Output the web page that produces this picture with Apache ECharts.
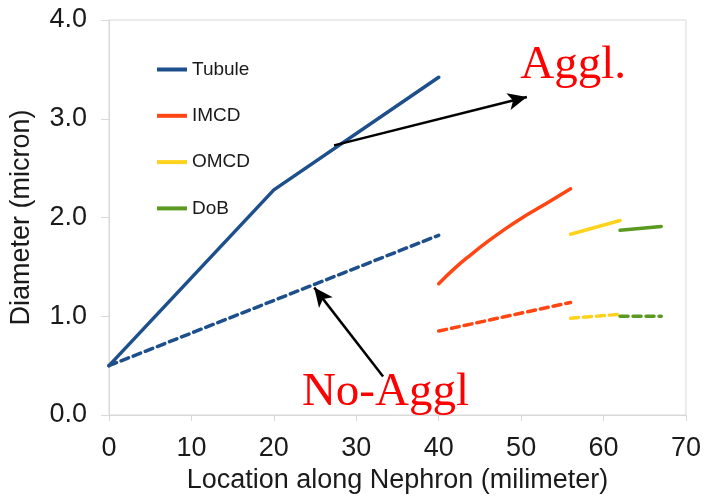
<!DOCTYPE html>
<html>
<head>
<meta charset="utf-8">
<script src="https://cdn.jsdelivr.net/npm/echarts@6/dist/echarts.min.js"></script>
<style>html,body{margin:0;padding:0;background:#fff}#c{width:704px;height:499px}</style>
</head>
<body>
<div id="c"></div>
<script>
// Data
var tubuleAggl   = [[0, 0.5], [20, 2.28], [40, 3.42]];
var tubuleNoAggl = [[0, 0.5], [40, 1.82]];
var imcdAggl     = [[40, 1.33], [42, 1.49], [44, 1.63], [46, 1.76], [48, 1.88], [50, 1.99], [52, 2.09], [54, 2.19], [56, 2.29]];
var imcdNoAggl   = [[40, 0.85], [56, 1.14]];
var omcdAggl     = [[56, 1.83], [62, 1.97]];
var omcdNoAggl   = [[56, 0.98], [62, 1.02]];
var dobAggl      = [[62, 1.87], [67, 1.91]];
var dobNoAggl    = [[62, 1.00], [67, 1.00]];
var legendNames  = ['Tubule', 'IMCD', 'OMCD', 'DoB'];
var xTicks = {min: 0, max: 70, interval: 10};
var yTicks = {min: 0, max: 4, interval: 1};
// annotation anchors in data coordinates
var agglArrow   = [[27.3, 2.73], [50.7, 3.22]];
var noAgglArrow = [[33.25, 0.39], [24.9, 1.29]];
var agglLabel   = {text: 'Aggl.', at: [49.9, 3.54]};
var noAgglLabel = {text: 'No-Aggl', at: [23.4, 0.23]};

var C = {tubule: '#1d4f8c', imcd: '#ff4613', omcd: '#ffd21e', dob: '#5a9a20'};
var font = '"Liberation Sans", Arial, sans-serif';

function line(name, data, color, dashed, smooth) {
  return {
    name: name, type: 'line', data: data, smooth: smooth || false,
    symbol: 'none', showSymbol: false, silent: true,
    itemStyle: {color: color},
    lineStyle: {color: color, width: 3.5, type: dashed ? [8, 5] : 'solid', cap: 'round'},
    z: 3
  };
}
var arrowStyle = {color: '#000', width: 2.5, type: 'solid'};
function arrowLine(pts) {
  return [{coord: pts[0]}, {coord: pts[1]}];
}

var chart = echarts.init(document.getElementById('c'), null, {renderer: 'canvas'});
var series = [
  line('Tubule', tubuleAggl, C.tubule, false),
  line('Tubule No-Aggl', tubuleNoAggl, C.tubule, true),
  line('IMCD', imcdAggl, C.imcd, false, true),
  line('IMCD No-Aggl', imcdNoAggl, C.imcd, true),
  line('OMCD', omcdAggl, C.omcd, false),
  line('OMCD No-Aggl', omcdNoAggl, C.omcd, true),
  line('DoB', dobAggl, C.dob, false),
  line('DoB No-Aggl', dobNoAggl, C.dob, true)
];
series[0].markLine = {
  silent: true, symbol: ['none', 'arrow'], symbolSize: [13, 19],
  label: {show: false}, lineStyle: arrowStyle,
  emphasis: {disabled: true},
  data: [arrowLine(agglArrow), arrowLine(noAgglArrow)],
  z: 5
};

chart.setOption({
  animation: false,
  backgroundColor: '#fff',
  grid: {left: 109, right: 16, top: 20, bottom: 83, show: true, borderColor: '#d9d9d9', borderWidth: 1, backgroundColor: 'transparent'},
  legend: {
    data: legendNames, orient: 'vertical', left: 157, top: 60, padding: 0,
    icon: 'rect', itemWidth: 30, itemHeight: 4, itemGap: 27.3,
    selectedMode: false,
    textStyle: {fontSize: 19, color: '#1a1a1a', fontFamily: font}
  },
  xAxis: {
    type: 'value', min: xTicks.min, max: xTicks.max, interval: xTicks.interval,
    name: 'Location along Nephron (milimeter)', nameLocation: 'middle', nameGap: 52,
    nameTextStyle: {fontSize: 27, color: '#1a1a1a', fontFamily: font},
    axisLine: {show: true, lineStyle: {color: '#d9d9d9', width: 1}},
    axisTick: {show: true, length: 6, lineStyle: {color: '#d9d9d9'}},
    splitLine: {show: false},
    axisLabel: {fontSize: 27, color: '#1a1a1a', fontFamily: font, margin: 20}
  },
  yAxis: {
    type: 'value', min: yTicks.min, max: yTicks.max, interval: yTicks.interval,
    name: 'Diameter (micron)', nameLocation: 'middle', nameGap: 74,
    nameTextStyle: {fontSize: 27, color: '#1a1a1a', fontFamily: font},
    axisLine: {show: true, lineStyle: {color: '#d9d9d9', width: 1}},
    axisTick: {show: true, length: 8, lineStyle: {color: '#d9d9d9'}},
    splitLine: {show: false},
    axisLabel: {fontSize: 27, color: '#1a1a1a', fontFamily: font, margin: 22,
      formatter: function (v) { return v.toFixed(1); }}
  },
  series: series
});

var p1 = chart.convertToPixel({gridIndex: 0}, agglLabel.at);
var p2 = chart.convertToPixel({gridIndex: 0}, noAgglLabel.at);
var serif = '47px "Liberation Serif", "Times New Roman", serif';
chart.setOption({
  graphic: [
    {type: 'text', silent: true, z: 10, style: {text: agglLabel.text, x: p1[0], y: p1[1], font: serif, fill: '#ff0000', align: 'left', verticalAlign: 'middle'}},
    {type: 'text', silent: true, z: 10, style: {text: noAgglLabel.text, x: p2[0], y: p2[1], font: serif, fill: '#ff0000', align: 'left', verticalAlign: 'middle'}}
  ]
});
</script>
</body>
</html>
